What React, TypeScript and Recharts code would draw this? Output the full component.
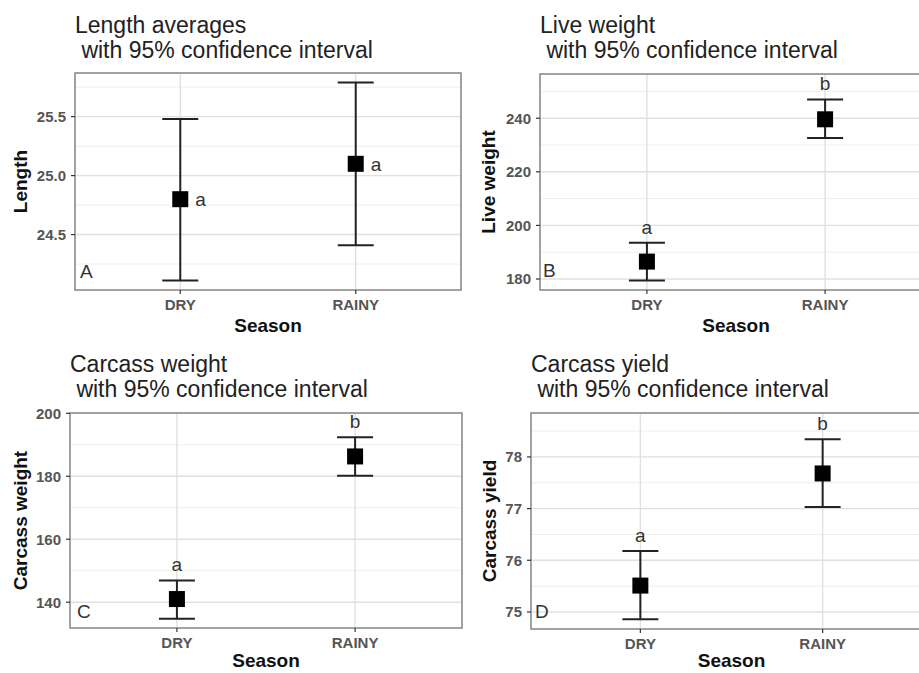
import React from 'react';
import {
  ScatterChart,
  Scatter,
  XAxis,
  YAxis,
  CartesianGrid,
  ErrorBar,
  ReferenceArea,
  ReferenceDot,
} from 'recharts';

const seasons = ['DRY', 'RAINY'];

// A: length
const lengthMean = [24.8, 25.1];
const lengthLow = [24.11, 24.41];
const lengthHigh = [25.48, 25.79];
const lengthGroups = ['a', 'a'];
const lengthTicks = [24.5, 25.0, 25.5];
const lengthMinor = [24.25, 24.75, 25.25, 25.75];

// B: live weight
const liveMean = [186.5, 239.6];
const liveLow = [179.4, 232.6];
const liveHigh = [193.5, 247.0];
const liveGroups = ['a', 'b'];
const liveTicks = [180, 200, 220, 240];
const liveMinor = [190, 210, 230, 250];

// C: carcass weight
const carcassMean = [141.0, 186.3];
const carcassLow = [134.7, 180.2];
const carcassHigh = [146.9, 192.4];
const carcassGroups = ['a', 'b'];
const carcassTicks = [140, 160, 180, 200];
const carcassMinor = [150, 170, 190];

// D: carcass yield
const yieldMean = [75.51, 77.68];
const yieldLow = [74.86, 77.03];
const yieldHigh = [76.18, 78.34];
const yieldGroups = ['a', 'b'];
const yieldTicks = [75, 76, 77, 78];
const yieldMinor = [75.5, 76.5, 77.5, 78.5];

const FONT = '"Liberation Sans", Arial, sans-serif';

interface PanelProps {
  left: number;
  top: number;
  width: number;
  height: number;
  margin: { top: number; right: number; bottom: number; left: number };
  yAxisWidth: number;
  xAxisHeight: number;
  domain: [number, number];
  ticks: number[];
  minor: number[];
  decimals: number;
  yLabel: string;
  yLabelOffset: number;
  mean: number[];
  low: number[];
  high: number[];
  groups: string[];
  groupSide: 'right' | 'top';
}

const squareShape = (props: any) => (
  <rect x={props.cx - 8} y={props.cy - 8} width={16} height={16} fill="#000" />
);

function Panel(p: PanelProps) {
  const data = seasons.map((s, i) => ({
    pos: i + 1,
    mean: p.mean[i],
    err: [p.mean[i] - p.low[i], p.high[i] - p.mean[i]],
  }));

  return (
    <div style={{ position: 'absolute', left: p.left, top: p.top }}>
      <ScatterChart width={p.width} height={p.height} margin={p.margin}>
        <CartesianGrid
          horizontalValues={p.minor}
          vertical={false}
          stroke="#eeeeee"
          strokeWidth={1}
        />
        <CartesianGrid stroke="#e0e0e0" strokeWidth={1.4} />
        <XAxis
          type="number"
          dataKey="pos"
          domain={[0.4, 2.6]}
          ticks={[1, 2]}
          allowDataOverflow
          tickFormatter={(v: number) => seasons[v - 1]}
          axisLine={false}
          tickLine={{ stroke: '#333', strokeWidth: 1.2 }}
          tickSize={4}
          tickMargin={5}
          height={p.xAxisHeight}
          tick={{ fill: '#555', fontSize: 15, fontWeight: 700 }}
          label={{
            value: 'Season',
            position: 'insideBottom',
            offset: 3,
            style: { fontSize: 19, fontWeight: 700, fill: '#111' },
          }}
        />
        <YAxis
          type="number"
          dataKey="mean"
          domain={p.domain}
          ticks={p.ticks}
          allowDataOverflow
          tickFormatter={(v: number) => v.toFixed(p.decimals)}
          axisLine={false}
          tickLine={{ stroke: '#333', strokeWidth: 1.2 }}
          tickSize={4}
          tickMargin={5}
          width={p.yAxisWidth}
          tick={{ fill: '#555', fontSize: 15, fontWeight: 700 }}
          label={{
            value: p.yLabel,
            angle: -90,
            position: 'insideLeft',
            offset: p.yLabelOffset,
            style: { textAnchor: 'middle', fontSize: 19, fontWeight: 700, fill: '#111' },
          }}
        />
        <ReferenceArea
          x1={0.4}
          x2={2.6}
          y1={p.domain[0]}
          y2={p.domain[1]}
          fill="none"
          stroke="#8a8a8a"
          strokeWidth={1.5}
          ifOverflow="visible"
        />
        <Scatter data={data} shape={squareShape} isAnimationActive={false}>
          <ErrorBar dataKey="err" direction="y" width={18} stroke="#222" strokeWidth={2} />
        </Scatter>
        {p.groups.map((g, i) => (
          <ReferenceDot
            key={i}
            x={i + 1}
            y={p.groupSide === 'right' ? p.mean[i] : p.high[i]}
            r={0}
            fill="none"
            stroke="none"
            label={{
              value: g,
              position: p.groupSide,
              offset: p.groupSide === 'right' ? 15 : 9,
              style: { fontSize: 19, fill: '#333' },
            }}
          />
        ))}
      </ScatterChart>
    </div>
  );
}

const titleStyle: React.CSSProperties = { fontSize: 23, fill: '#222', whiteSpace: 'pre' };
const tagStyle: React.CSSProperties = { fontSize: 19, fill: '#333' };

export default function App() {
  return (
    <div
      style={{
        position: 'absolute',
        left: 0,
        top: 0,
        width: 919,
        height: 673,
        overflow: 'hidden',
        background: '#fff',
        fontFamily: FONT,
      }}
    >
      <Panel
        left={0}
        top={60}
        width={470}
        height={280}
        margin={{ top: 13, right: 9, bottom: 5, left: 0 }}
        yAxisWidth={75}
        xAxisHeight={45}
        domain={[24.03, 25.87]}
        ticks={lengthTicks}
        minor={lengthMinor}
        decimals={1}
        yLabel="Length"
        yLabelOffset={20}
        mean={lengthMean}
        low={lengthLow}
        high={lengthHigh}
        groups={lengthGroups}
        groupSide="right"
      />
      <Panel
        left={460}
        top={60}
        width={480}
        height={280}
        margin={{ top: 14, right: 8, bottom: 5, left: 0 }}
        yAxisWidth={80}
        xAxisHeight={45}
        domain={[175.9, 256.5]}
        ticks={liveTicks}
        minor={liveMinor}
        decimals={0}
        yLabel="Live weight"
        yLabelOffset={28}
        mean={liveMean}
        low={liveLow}
        high={liveHigh}
        groups={liveGroups}
        groupSide="top"
      />
      <Panel
        left={0}
        top={400}
        width={470}
        height={273}
        margin={{ top: 13, right: 8, bottom: 3, left: 0 }}
        yAxisWidth={70}
        xAxisHeight={42}
        domain={[131.8, 200.1]}
        ticks={carcassTicks}
        minor={carcassMinor}
        decimals={0}
        yLabel="Carcass weight"
        yLabelOffset={20}
        mean={carcassMean}
        low={carcassLow}
        high={carcassHigh}
        groups={carcassGroups}
        groupSide="top"
      />
      <Panel
        left={460}
        top={400}
        width={480}
        height={273}
        margin={{ top: 13, right: 8, bottom: 3, left: 0 }}
        yAxisWidth={71}
        xAxisHeight={41}
        domain={[74.67, 78.85]}
        ticks={yieldTicks}
        minor={yieldMinor}
        decimals={0}
        yLabel="Carcass yield"
        yLabelOffset={29}
        mean={yieldMean}
        low={yieldLow}
        high={yieldHigh}
        groups={yieldGroups}
        groupSide="top"
      />
      <svg
        width={919}
        height={673}
        style={{ position: 'absolute', left: 0, top: 0, pointerEvents: 'none' }}
      >
        <text x={75} y={33} style={titleStyle}>Length averages</text>
        <text x={75} y={58} style={titleStyle}> with 95% confidence interval</text>
        <text x={540} y={33} style={titleStyle}>Live weight</text>
        <text x={540} y={58} style={titleStyle}> with 95% confidence interval</text>
        <text x={70} y={372} style={titleStyle}>Carcass weight</text>
        <text x={70} y={397} style={titleStyle}> with 95% confidence interval</text>
        <text x={531} y={372} style={titleStyle}>Carcass yield</text>
        <text x={531} y={397} style={titleStyle}> with 95% confidence interval</text>
        <text x={80} y={278} style={tagStyle}>A</text>
        <text x={543} y={277} style={tagStyle}>B</text>
        <text x={77} y={618} style={tagStyle}>C</text>
        <text x={535} y={618} style={tagStyle}>D</text>
      </svg>
    </div>
  );
}
